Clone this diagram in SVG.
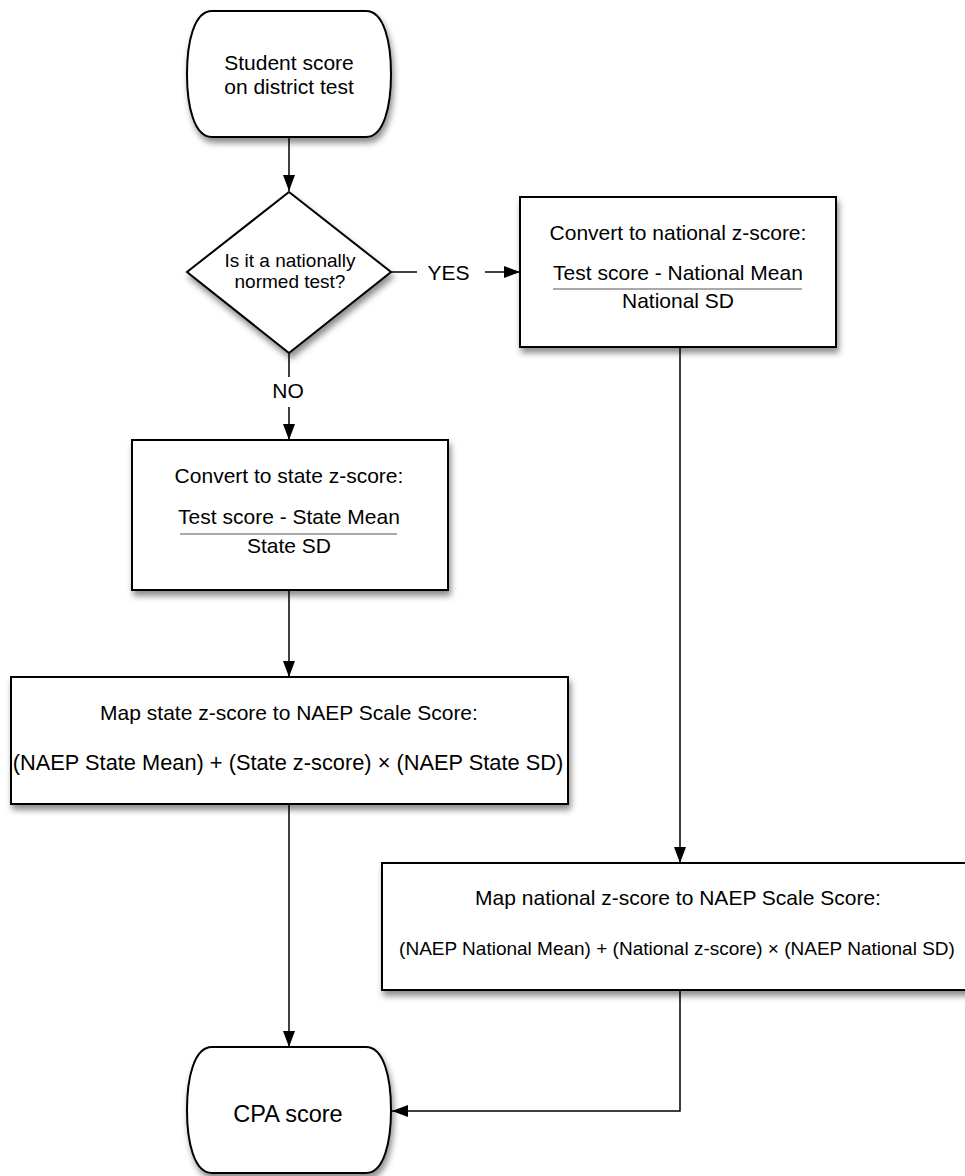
<svg xmlns="http://www.w3.org/2000/svg" width="965" height="1176" viewBox="0 0 965 1176">
<defs>
<filter id="shadow" x="-10%" y="-10%" width="130%" height="140%">
<feDropShadow dx="2" dy="5" stdDeviation="3" flood-color="#000" flood-opacity="0.45"/>
</filter>
<marker id="arrow" viewBox="0 0 16 12" refX="16" refY="6" markerWidth="16" markerHeight="12" markerUnits="userSpaceOnUse" orient="auto">
<path d="M0,0 L16,6 L0,12 Z" fill="#000"/>
</marker>
<style>
.shape{fill:#fff;stroke:#000;stroke-width:2;filter:url(#shadow)}
.t{font-family:"Liberation Sans",Arial,sans-serif;font-size:21px;fill:#000;text-anchor:middle}
.s{font-size:19px}
.l{font-size:21.8px}
.xl{font-size:23.5px}
.frac{stroke:#555;stroke-width:1}
.conn{fill:none;stroke:#000;stroke-width:1.5}
</style>
</defs>
<rect width="965" height="1176" fill="#fff"/>

<g id="connectors">
<path class="conn" d="M289,137 V191" marker-end="url(#arrow)"/>
<path class="conn" d="M391,272 H417"/>
<text class="t" x="448.5" y="280">YES</text>
<path class="conn" d="M485,272 H520" marker-end="url(#arrow)"/>
<path class="conn" d="M289,353 V377"/>
<text class="t" x="288" y="398">NO</text>
<path class="conn" d="M289,407 V440" marker-end="url(#arrow)"/>
<path class="conn" d="M289,590 V677" marker-end="url(#arrow)"/>
<path class="conn" d="M289,804 V1047" marker-end="url(#arrow)"/>
<path class="conn" d="M680,347 V863" marker-end="url(#arrow)"/>
<path class="conn" d="M680,990 V1111 H392" marker-end="url(#arrow)"/>
</g>

<g id="start">
<path class="shape" d="M212,11 H366 C384,11 391,42 391,74 C391,106 384,137 366,137 H212 C194,137 187,106 187,74 C187,42 194,11 212,11 Z"/>
<text class="t" x="289" y="70">Student score</text>
<text class="t" x="289" y="94">on district test</text>
</g>

<g id="decision">
<polygon class="shape" points="289,192 391,272 289,353 187,272"/>
<text class="t s" x="290" y="267">Is it a nationally</text>
<text class="t s" x="290" y="288">normed test?</text>
</g>

<g id="national-z">
<rect class="shape" x="520" y="197" width="316" height="150"/>
<text class="t" x="678" y="240">Convert to national z-score:</text>
<text class="t" x="678" y="280">Test score - National Mean</text>
<line class="frac" x1="553" y1="289" x2="802" y2="289"/>
<text class="t" x="678" y="308">National SD</text>
</g>

<g id="state-z">
<rect class="shape" x="132" y="440" width="316" height="150"/>
<text class="t" x="289" y="483">Convert to state z-score:</text>
<text class="t" x="289" y="524">Test score - State Mean</text>
<line class="frac" x1="180" y1="534" x2="397" y2="534"/>
<text class="t" x="289" y="553">State SD</text>
</g>

<g id="map-state">
<rect class="shape" x="11" y="677" width="557" height="127"/>
<text class="t" x="289" y="720">Map state z-score to NAEP Scale Score:</text>
<text class="t l" x="288" y="770">(NAEP State Mean) + (State z-score) × (NAEP State SD)</text>
</g>

<g id="map-national">
<rect class="shape" x="382" y="863" width="596" height="127"/>
<text class="t" x="678" y="905">Map national z-score to NAEP Scale Score:</text>
<text class="t s" x="677" y="955">(NAEP National Mean) + (National z-score) × (NAEP National SD)</text>
</g>

<g id="end">
<path class="shape" d="M212,1047 H366 C384,1047 391,1078 391,1110 C391,1142 384,1173 366,1173 H212 C194,1173 187,1142 187,1110 C187,1078 194,1047 212,1047 Z"/>
<text class="t xl" x="288" y="1122">CPA score</text>
</g>
</svg>
